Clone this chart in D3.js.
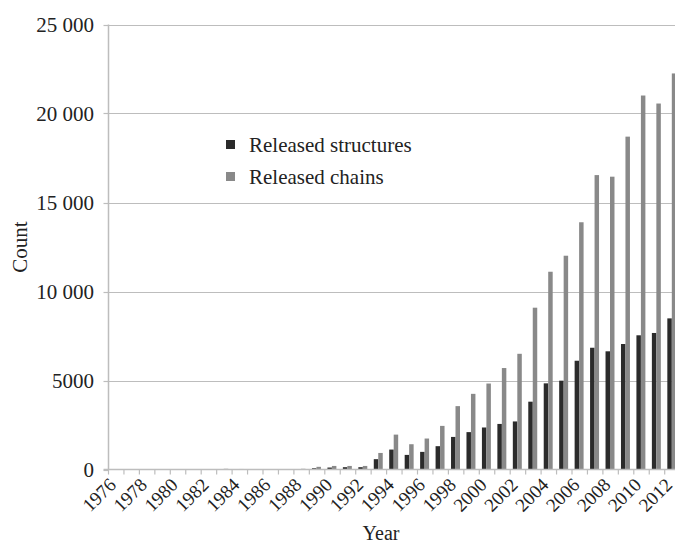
<!DOCTYPE html>
<html>
<head>
<meta charset="utf-8">
<script src="https://cdn.jsdelivr.net/npm/d3@7"></script>
<style>
  body { margin: 0; background: #fff; }
  svg { display: block; }
  text { font-family: "Liberation Serif", "Times New Roman", serif; fill: #222; }
</style>
</head>
<body>
<svg></svg>
<script>
var width = 675;
var height = 546;

var years = d3.range(1976, 2013);
var structures = [0, 0, 0, 0, 0, 0, 8, 25, 15, 12, 0, 0, 25, 70, 110, 130, 130,
    580, 1120, 820, 990, 1310, 1830, 2100, 2360, 2560, 2700, 3810, 4840, 4990,
    6110, 6840, 6640, 7050, 7540, 7670, 8490];
var chains = [0, 0, 0, 0, 0, 0, 12, 40, 30, 22, 0, 0, 40, 150, 200, 200, 200,
    930, 1960, 1420, 1740, 2450, 3560, 4250, 4830, 5700, 6500, 9090, 11110, 12010,
    13890, 16540, 16450, 18700, 21010, 20560, 22250];
var yTicks = [0, 5000, 10000, 15000, 20000, 25000];
var seriesNames = ["Released structures", "Released chains"];
var seriesColors = ["#2b2b2b", "#898989"];

var svg = d3.select("svg")
    .attr("width", width)
    .attr("height", height);

var left = 108.5;
var bottom = 469.5;

var x = d3.scaleBand().domain(years).range([left, left + 37 * 15.45]).padding(0);
var y = d3.scaleLinear().domain([0, 25000]).range([bottom, 24.5]);
var bw = x.bandwidth();

function fmt(v) {
    if (v >= 10000) return d3.format(",")(v).replace(",", " ");
    return String(v);
}

// grid lines
svg.append("g").selectAll("line")
    .data(yTicks.filter(function(d) { return d > 0; }))
    .enter().append("line")
    .attr("x1", left).attr("x2", width)
    .attr("y1", function(d) { return Math.round(y(d)) + 0.5; })
    .attr("y2", function(d) { return Math.round(y(d)) + 0.5; })
    .attr("stroke", "#bdbdbd").attr("stroke-width", 1.2);

// y ticks + labels
var yg = svg.append("g");
yg.selectAll("line").data(yTicks).enter().append("line")
    .attr("x1", left - 5).attr("x2", left)
    .attr("y1", function(d) { return Math.round(y(d)) + 0.5; })
    .attr("y2", function(d) { return Math.round(y(d)) + 0.5; })
    .attr("stroke", "#bdbdbd").attr("stroke-width", 1.2);
yg.selectAll("text").data(yTicks).enter().append("text")
    .attr("x", 94)
    .attr("y", function(d) { return y(d); })
    .attr("dy", "0.35em")
    .attr("text-anchor", "end")
    .style("font-size", "21px")
    .text(fmt);

// bars
var bars = svg.append("g");
bars.selectAll("rect.s").data(years).enter().append("rect")
    .attr("class", "s")
    .attr("x", function(d) { return x(d) + bw * 0.17; })
    .attr("width", bw * 0.29)
    .attr("y", function(d, i) { return y(structures[i]); })
    .attr("height", function(d, i) { return bottom - y(structures[i]); })
    .attr("fill", seriesColors[0]);
bars.selectAll("rect.c").data(years).enter().append("rect")
    .attr("class", "c")
    .attr("x", function(d) { return x(d) + bw * 0.46; })
    .attr("width", bw * 0.29)
    .attr("y", function(d, i) { return y(chains[i]); })
    .attr("height", function(d, i) { return bottom - y(chains[i]); })
    .attr("fill", seriesColors[1]);

// axes lines
svg.append("line")
    .attr("x1", left).attr("x2", left)
    .attr("y1", y(25000)).attr("y2", bottom)
    .attr("stroke", "#bdbdbd").attr("stroke-width", 1.5);
svg.append("line")
    .attr("x1", left - 5).attr("x2", width)
    .attr("y1", bottom).attr("y2", bottom)
    .attr("stroke", "#bdbdbd").attr("stroke-width", 1.5);

// x ticks at band edges
var edges = years.map(function(d) { return x(d); }).concat([x(2012) + bw]);
svg.append("g").selectAll("line").data(edges).enter().append("line")
    .attr("x1", function(d) { return d; }).attr("x2", function(d) { return d; })
    .attr("y1", bottom).attr("y2", bottom + 5)
    .attr("stroke", "#bdbdbd").attr("stroke-width", 1.2);

svg.append("g").selectAll("text")
    .data(years.filter(function(d) { return d % 2 == 0; }))
    .enter().append("text")
    .attr("transform", function(d) {
        return "translate(" + (x(d) + bw / 2 + 1) + "," + 486 + ") rotate(-45)";
    })
    .attr("text-anchor", "end")
    .style("font-size", "19px")
    .text(function(d) { return d; });

// axis titles
svg.append("text")
    .attr("x", 381).attr("y", 540)
    .attr("text-anchor", "middle")
    .style("font-size", "20px")
    .text("Year");
svg.append("text")
    .attr("transform", "translate(27,247) rotate(-90)")
    .attr("text-anchor", "middle")
    .style("font-size", "21px")
    .text("Count");

// legend
var legend = svg.append("g").selectAll("g")
    .data(seriesNames).enter().append("g")
    .attr("transform", function(d, i) { return "translate(226," + (140 + i * 32) + ")"; });
legend.append("rect")
    .attr("width", 9).attr("height", 9)
    .attr("fill", function(d, i) { return seriesColors[i]; });
legend.append("text")
    .attr("x", 23).attr("y", 12)
    .style("font-size", "21px")
    .text(function(d) { return d; });
</script>
</body>
</html>
